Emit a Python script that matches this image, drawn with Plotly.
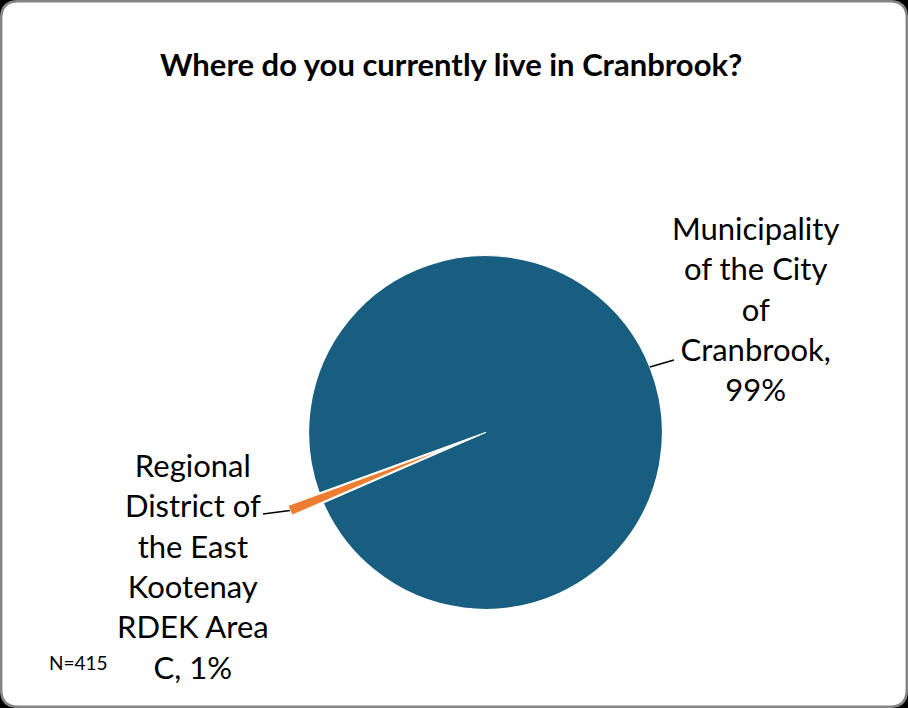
import math
import plotly.graph_objects as go

# ---- data ----
categories = ["Municipality of the City of Cranbrook",
              "Regional District of the East Kootenay RDEK Area C"]
label_lines = [["Municipality", "of the City", "of", "Cranbrook,"],
               ["Regional", "District of", "the East", "Kootenay", "RDEK Area", "C,"]]
counts = [411, 4]
colors = ["#175e80", "#ed7d31"]
pulls = [0, 0.19]
title_text = "Where do you currently live in Cranbrook?"
note_text = "N=415"

W, H = 908, 708
FONT = "Lato"
rotation = 250
dom_x = [0.3028, 0.7666]
dom_y = [0.0917, 0.6866]

fig = go.Figure(go.Pie(
    labels=categories, values=counts, sort=False, direction="clockwise",
    rotation=rotation, pull=pulls, textinfo="none", hoverinfo="label+percent",
    marker=dict(colors=colors, line=dict(color="white", width=1.2)),
    domain=dict(x=dom_x, y=dom_y), showlegend=False,
))

# pie geometry (pixels, y down) derived from domain & pull
cx = (dom_x[0] + dom_x[1]) / 2 * W
cy = (1 - (dom_y[0] + dom_y[1]) / 2) * H
R = min((dom_x[1] - dom_x[0]) * W, (dom_y[1] - dom_y[0]) * H) / (2 + 2 * max(pulls))
total = sum(counts)


def px2paper(x, y):
    return x / W, 1 - y / H


shapes = []
# background rounded frame
rad = 17
x0, y0, x1, y1 = 1.2, 1.2, W - 1.2, H - 1.2
def P(x, y):
    a, b = px2paper(x, y)
    return f"{a:.5f},{b:.5f}"
path = (f"M {P(x0+rad, y0)} L {P(x1-rad, y0)} Q {P(x1, y0)} {P(x1, y0+rad)} "
        f"L {P(x1, y1-rad)} Q {P(x1, y1)} {P(x1-rad, y1)} "
        f"L {P(x0+rad, y1)} Q {P(x0, y1)} {P(x0, y1-rad)} "
        f"L {P(x0, y0+rad)} Q {P(x0, y0)} {P(x0+rad, y0)} Z")
shapes.append(dict(type="path", xref="paper", yref="paper", path=path,
                   fillcolor="white", line=dict(color="#858585", width=2.5), layer="below"))

# leader lines from slice mid-angles
start = rotation
mids = []
for v in counts:
    ang = start + 360 * v / total / 2
    mids.append(ang)
    start += 360 * v / total
leader_ends = [(674, 360), (263, 514)]
for i, ang in enumerate(mids):
    a = math.radians(ang)
    rr = R * (1 + pulls[i])
    sx, sy = cx + rr * math.sin(a), cy - rr * math.cos(a)
    ex, ey = leader_ends[i]
    (ax0, ay0), (ax1, ay1) = px2paper(sx, sy), px2paper(ex, ey)
    shapes.append(dict(type="line", xref="paper", yref="paper",
                       x0=ax0, y0=ay0, x1=ax1, y1=ay1,
                       line=dict(color="black", width=1.5)))

annotations = []
label_pos = [(755, 308), (193, 566)]
for i, lines in enumerate(label_lines):
    pct = round(100 * counts[i] / total)
    txt = "<br>".join(lines)
    txt = txt + (f"<br>{pct}%" if i == 0 else f" {pct}%")
    x, y = px2paper(*label_pos[i])
    annotations.append(dict(text=txt, x=x, y=y, xref="paper", yref="paper",
                            xanchor="center", yanchor="middle", showarrow=False,
                            align="center", font=dict(family=FONT, size=31, color="black")))

x, y = px2paper(47, 662)
annotations.append(dict(text=note_text, x=x, y=y, xref="paper", yref="paper",
                        xanchor="left", yanchor="middle", showarrow=False,
                        font=dict(family=FONT, size=19, color="black")))
x, y = px2paper(451, 64)
annotations.append(dict(text=f"<b>{title_text}</b>", x=x, y=y, xref="paper", yref="paper",
                        xanchor="center", yanchor="middle", showarrow=False,
                        font=dict(family=FONT, size=31, color="black")))

fig.update_layout(width=W, height=H, margin=dict(l=0, r=0, t=0, b=0),
                  paper_bgcolor="black", plot_bgcolor="white",
                  shapes=shapes, annotations=annotations)
fig.write_html("out.html", config={"displayModeBar": False},
               post_script="document.body.style.margin='0px';document.body.style.overflow='hidden';")
